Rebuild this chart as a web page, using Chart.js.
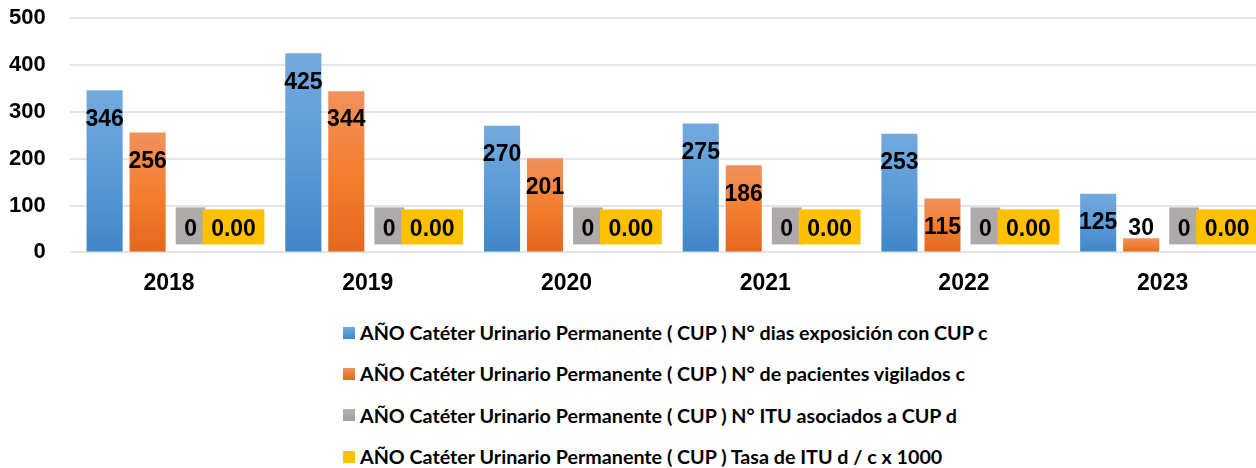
<!DOCTYPE html>
<html>
<head>
<meta charset="utf-8">
<script src="https://cdn.jsdelivr.net/npm/chart.js@4.4.1/dist/chart.umd.min.js"></script>
<style>
  html, body { margin: 0; padding: 0; background: #fff; overflow: hidden; }
  #wrap { position: relative; width: 1256px; height: 468px; overflow: hidden; }
  #box { position: absolute; left: 0; top: 0; width: 1262px; height: 300px; }
  #legend { position: absolute; left: 343px; top: 312px; font-family: Lato, "Noto Sans", sans-serif; font-weight: bold; font-size: 19.7px; color: #000; }
  .item { height: 41.3px; display: flex; align-items: center; white-space: nowrap; }
  .sw { width: 12px; height: 12px; margin-right: 5px; flex: none; }
</style>
</head>
<body>
<div id="wrap">
  <div id="box"><canvas id="chart"></canvas></div>
  <div id="legend"></div>
</div>
<script>
const years = ['2018', '2019', '2020', '2021', '2022', '2023'];
const diasExposicion = [346, 425, 270, 275, 253, 125];
const pacientesVigilados = [256, 344, 201, 186, 115, 30];
const ituAsociados = [0, 0, 0, 0, 0, 0];
const tasaItu = [0, 0, 0, 0, 0, 0];
const yTicks = [0, 100, 200, 300, 400, 500];

const seriesNames = [
    'AÑO Catéter Urinario Permanente ( CUP ) N° dias exposición con CUP c',
    'AÑO Catéter Urinario Permanente ( CUP ) N° de pacientes vigilados c',
    'AÑO Catéter Urinario Permanente ( CUP ) N° ITU asociados a CUP d',
    'AÑO Catéter Urinario Permanente ( CUP ) Tasa de ITU d / c x 1000'
];
const topColors = ['#74a9dd', '#f0915c', '#b5b1b1', '#ffc000'];
const midColors = ['#5b9bd8', '#f47e2f', '#aeaaaa', '#ffc000'];
const bottomColors = ['#3f86c8', '#e3681c', '#a3a0a0', '#ffc000'];
const labelBoxes = [null, null, '#aeaaaa', '#ffc000'];
const decimals = [0, 0, 0, 2];

// per-bar vertical gradient, lighter on top
function barFill(i) {
    return ctx => {
        const chart = ctx.chart;
        const y = chart.scales.y;
        if (!y || !chart.chartArea || ctx.raw === undefined) return bottomColors[i];
        const top = y.getPixelForValue(ctx.raw);
        const bot = y.getPixelForValue(0);
        if (bot - top < 1) return bottomColors[i];
        const g = chart.ctx.createLinearGradient(0, top, 0, bot);
        g.addColorStop(0, topColors[i]);
        g.addColorStop(0.5, midColors[i]);
        g.addColorStop(1, bottomColors[i]);
        return g;
    };
}

const valueLabels = {
    id: 'valueLabels',
    afterDatasetsDraw(chart) {
        const c = chart.ctx;
        c.save();
        c.font = 'bold 23px "Liberation Sans", Arial, sans-serif';
        c.textAlign = 'center';
        c.textBaseline = 'middle';
        chart.data.datasets.forEach((ds, i) => {
            const meta = chart.getDatasetMeta(i);
            meta.data.forEach((bar, j) => {
                const text = ds.data[j].toFixed(decimals[i]);
                const ly = Math.min(bar.y + 29, bar.base - 23);
                if (labelBoxes[i]) {
                    const w = c.measureText(text).width + 17;
                    const h = i === 2 ? 37 : 35;
                    c.fillStyle = labelBoxes[i];
                    c.fillRect(bar.x - w / 2, bar.base - 8 - h, w, h);
                }
                c.fillStyle = '#000';
                c.fillText(text, bar.x, ly);
            });
        });
        c.restore();
    }
};

const allData = [diasExposicion, pacientesVigilados, ituAsociados, tasaItu];

new Chart(document.getElementById('chart'), {
    type: 'bar',
    data: {
        labels: years,
        datasets: allData.map((d, i) => ({
            label: seriesNames[i],
            data: d,
            backgroundColor: barFill(i),
            borderWidth: 0,
            categoryPercentage: 0.865,
            barPercentage: 0.84
        }))
    },
    options: {
        responsive: true,
        maintainAspectRatio: false,
        animation: false,
        layout: { padding: { top: 18, left: 6, right: 0, bottom: 0 } },
        scales: {
            x: {
                grid: { display: false, drawTicks: true, tickLength: 14 },
                border: { display: false },
                ticks: { color: '#000', font: { family: '"Liberation Sans", Arial', size: 23, weight: 'bold' }, padding: 3 }
            },
            y: {
                min: 0,
                max: 500,
                afterBuildTicks: axis => { axis.ticks = yTicks.map(v => ({ value: v })); },
                grid: { color: '#e1e5ea', lineWidth: 2, drawTicks: true, tickLength: 21, tickColor: 'rgba(0,0,0,0)' },
                border: { display: false },
                ticks: { color: '#000', font: { family: '"Liberation Sans", Arial', size: 22, weight: 'bold' }, padding: 3 }
            }
        },
        plugins: {
            legend: { display: false },
            tooltip: { enabled: false }
        }
    },
    plugins: [valueLabels]
});

// legend, one entry per line
const legend = document.getElementById('legend');
seriesNames.forEach((name, i) => {
    const item = document.createElement('div');
    item.className = 'item';
    const sw = document.createElement('span');
    sw.className = 'sw';
    sw.style.background = `linear-gradient(${topColors[i]}, ${bottomColors[i]})`;
    const t = document.createElement('span');
    t.textContent = name;
    item.appendChild(sw);
    item.appendChild(t);
    legend.appendChild(item);
});
</script>
</body>
</html>
